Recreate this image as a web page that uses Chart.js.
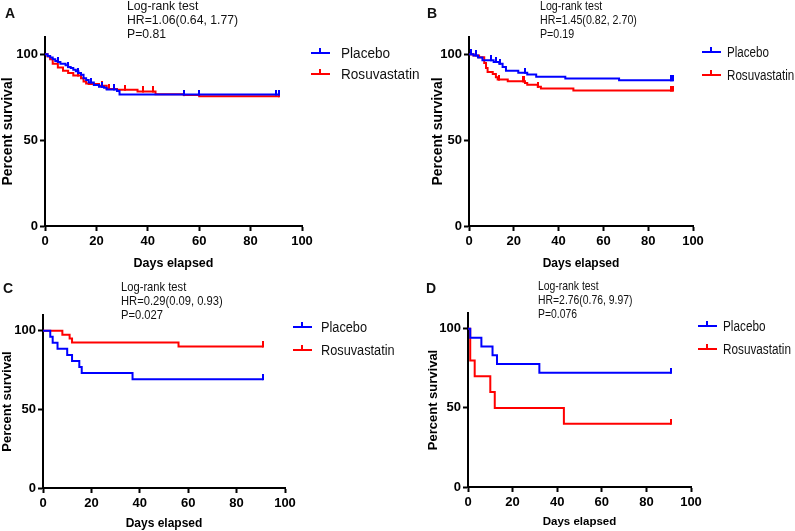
<!DOCTYPE html>
<html>
<head>
<meta charset="utf-8">
<script src="https://cdn.jsdelivr.net/npm/chart.js@4.4.0/dist/chart.umd.min.js"></script>
<style>
  body { margin: 0; background: #fff; }
  #wrap { position: relative; width: 795px; height: 531px; overflow: hidden; font-family: Arial, "Liberation Sans", sans-serif; color: #111; }
  #wrap canvas { position: absolute; }
  .letter { position: absolute; font-weight: bold; font-size: 14px; line-height: 16px; }
  .note { position: absolute; font-size: 13px; line-height: 14px; white-space: pre; transform-origin: 0 0; }
  .leg { position: absolute; height: 16px; line-height: 16px; white-space: nowrap; }
  .leg .key { position: absolute; left: 0; top: 7px; width: 19px; height: 2px; }
  .leg .key i { position: absolute; left: 8px; top: -4px; width: 2px; height: 5px; background: inherit; }
  .leg span { position: absolute; top: 0; transform-origin: 0 50%; }
</style>
</head>
<body>
<div id="wrap"></div>
<script>
// 軸と凡例
const xTicks = [0, 20, 40, 60, 80, 100];
const yTicks = [0, 50, 100];
const groupNames = ["Placebo", "Rosuvastatin"];
const panelLetters = ["A", "B", "C", "D"];
const notes = [
  ["Log-rank test", "HR=1.06(0.64, 1.77)", "P=0.81"],
  ["Log-rank test", "HR=1.45(0.82, 2.70)", "P=0.19"],
  ["Log-rank test", "HR=0.29(0.09, 0.93)", "P=0.027"],
  ["Log-rank test", "HR=2.76(0.76, 9.97)", "P=0.076"]
];

// A: イベント日・生存率・打ち切り日
const aPlaceboDays = [1, 2, 3, 4, 5, 6, 8, 9, 10, 11, 12, 13, 14, 15, 16, 17, 19, 21, 23, 24, 28, 29];
const aPlaceboSurv = [99, 98, 97, 96, 95.5, 94.5, 93.5, 92.5, 92, 91, 90, 89, 88, 86, 85, 83.5, 82, 81, 80.5, 79.5, 78.5, 76.5];
const aPlaceboCens = [5, 9, 13, 18, 22, 27, 54, 60, 90, 91];
const aRosuDays = [1, 2, 3, 5, 7, 9, 11, 14, 15, 16, 17, 21, 24, 28, 36, 43, 54, 60];
const aRosuSurv = [98.6, 97, 94.4, 92.2, 90.3, 89, 87.6, 86, 84.1, 83, 82.6, 81.6, 79.8, 79.3, 78.3, 76.7, 76.2, 75.5];
const aRosuCens = [13, 22, 25, 31, 38, 42, 54, 91];

// B
const bPlaceboDays = [2, 4, 6, 11, 13.5, 15, 16.5, 22, 26, 30, 43, 67];
const bPlaceboSurv = [99.3, 98, 96.5, 95.5, 94.5, 92.5, 90.3, 89.2, 88.2, 86.8, 85.8, 84.8];
const bPlaceboCens = [1, 3, 10, 12, 14, 25, 90, 91];
const bRosuDays = [2, 4.5, 6.8, 7.6, 8.3, 10.6, 12, 12.8, 17.3, 25, 26, 30.7, 32.1, 46.6];
const bRosuSurv = [99.2, 98.2, 94.8, 92, 89.7, 88.4, 86.6, 85.2, 84.2, 83.2, 82.2, 81, 80, 78.8];
const bRosuCens = [1, 13.5, 24, 24.5, 31, 90, 91];

// C
const cPlaceboDays = [3, 4, 6, 10, 12, 15, 16, 37];
const cPlaceboSurv = [96.2, 92.3, 88.5, 84.6, 80.8, 76.9, 73.1, 69.2];
const cPlaceboCens = [91];
const cRosuDays = [8, 11, 12, 56];
const cRosuSurv = [97.5, 95, 92.5, 90];
const cRosuCens = [91];

// D
const dPlaceboDays = [1, 6, 11, 13, 32];
const dPlaceboSurv = [94.4, 88.9, 83.3, 77.8, 72.2];
const dPlaceboCens = [91];
const dRosuDays = [1, 3, 10, 12, 43];
const dRosuSurv = [80, 70, 60, 50, 40];
const dRosuCens = [91];

const series = [
  [[aPlaceboDays, aPlaceboSurv, aPlaceboCens], [aRosuDays, aRosuSurv, aRosuCens]],
  [[bPlaceboDays, bPlaceboSurv, bPlaceboCens], [bRosuDays, bRosuSurv, bRosuCens]],
  [[cPlaceboDays, cPlaceboSurv, cPlaceboCens], [cRosuDays, cRosuSurv, cRosuCens]],
  [[dPlaceboDays, dPlaceboSurv, dPlaceboCens], [dRosuDays, dRosuSurv, dRosuCens]]
];

// 配置（パネルごとに元画像の縮尺が違う）
const colors = ["#0000ff", "#ff0000"];
const layoutInfo = [
  { left: 0, top: 0, w: 400, h: 271, pad: { left: 0, top: 37, right: 98, bottom: 0 }, yW: 45, xH: 45,
    letter: [5, 5], note: [127, -1], noteScale: 0.94, leg: [311, 53, 74, 30], legScale: 0.97,
    xTitle: 12.5, yTitle: 14 },
  { left: 400, top: 0, w: 395, h: 271, pad: { left: 30, top: 37, right: 102, bottom: 0 }, yW: 39, xH: 45,
    letter: [427, 5], note: [540, -1], noteScale: 0.82, leg: [702, 52, 75, 25], legScale: 0.83,
    xTitle: 12, yTitle: 14 },
  { left: 0, top: 270, w: 400, h: 261, pad: { left: 0, top: 45, right: 115, bottom: 0 }, yW: 43, xH: 43,
    letter: [3, 280], note: [121, 280], noteScale: 0.86, leg: [293, 327, 350, 28], legScale: 0.91,
    xTitle: 12, yTitle: 13 },
  { left: 400, top: 270, w: 395, h: 261, pad: { left: 26, top: 43, right: 104, bottom: 2 }, yW: 42, xH: 42,
    letter: [426, 280], note: [538, 279], noteScale: 0.8, leg: [698, 326, 349, 25], legScale: 0.84,
    xTitle: 11.5, yTitle: 13 }
];

const wrap = document.getElementById("wrap");
const fontFamily = "Arial, 'Liberation Sans', sans-serif";

// 打ち切りマーク（上向きの短い線）
function censorMark(color) {
  const c = document.createElement("canvas");
  c.width = 2; c.height = 10;
  const g = c.getContext("2d");
  g.fillStyle = color;
  g.fillRect(0, 0, 2, 6);
  return c;
}

// KM曲線の点列
function kmPoints(days, surv, cens) {
  const pts = [{ x: 0, y: 100, c: 0 }];
  days.forEach((d, i) => pts.push({ x: d, y: surv[i], c: 0 }));
  cens.forEach(d => {
    let s = 100;
    days.forEach((e, i) => { if (e <= d) s = surv[i]; });
    pts.push({ x: d, y: s, c: 1 });
  });
  pts.sort((p, q) => p.x - q.x || p.c - q.c);
  return pts;
}

function addDiv(cls, left, top, html) {
  const el = document.createElement("div");
  el.className = cls;
  el.style.left = left + "px";
  el.style.top = top + "px";
  el.innerHTML = html;
  wrap.appendChild(el);
  return el;
}

layoutInfo.forEach((p, i) => {
  const cv = document.createElement("canvas");
  cv.width = p.w; cv.height = p.h;
  cv.style.left = p.left + "px";
  cv.style.top = p.top + "px";
  wrap.appendChild(cv);

  const datasets = series[i].map((s, k) => ({
    label: groupNames[k],
    data: kmPoints(s[0], s[1], s[2]),
    borderColor: colors[k],
    backgroundColor: colors[k],
    borderWidth: 2,
    stepped: true,
    fill: false,
    pointStyle: censorMark(colors[k]),
    pointRadius: ctx => (ctx.raw && ctx.raw.c ? 4 : 0),
    pointHoverRadius: 0
  }));

  new Chart(cv, {
    type: "line",
    data: { datasets },
    options: {
      responsive: false,
      animation: false,
      events: [],
      layout: { padding: p.pad },
      plugins: { legend: { display: false }, tooltip: { enabled: false } },
      scales: {
        x: {
          type: "linear", min: 0, max: 100,
          afterBuildTicks: s => { s.ticks = xTicks.map(v => ({ value: v })); },
          afterFit: s => { s.height = p.xH; },
          grid: { drawOnChartArea: false, drawTicks: true, tickLength: 5, tickColor: "#000", tickWidth: 2 },
          border: { color: "#000", width: 2 },
          ticks: { color: "#000", padding: 3, maxRotation: 0, font: { family: fontFamily, weight: "bold", size: 13 } },
          title: { display: true, text: "Days elapsed", color: "#000", padding: 0, font: { family: fontFamily, weight: "bold", size: p.xTitle } }
        },
        y: {
          type: "linear", min: 0, max: 110,
          afterBuildTicks: s => { s.ticks = yTicks.map(v => ({ value: v })); },
          afterFit: s => { s.width = p.yW; },
          grid: { drawOnChartArea: false, drawTicks: true, tickLength: 5, tickColor: "#000", tickWidth: 2 },
          border: { color: "#000", width: 2 },
          ticks: { color: "#000", padding: 2, font: { family: fontFamily, weight: "bold", size: 13 } },
          title: { display: true, text: "Percent survival", color: "#000", padding: 0, font: { family: fontFamily, weight: "bold", size: p.yTitle } }
        }
      }
    }
  });

  // パネル記号・検定結果・凡例
  addDiv("letter", p.letter[0], p.letter[1], panelLetters[i]);
  const note = addDiv("note", p.note[0], p.note[1], notes[i].join("\n"));
  note.style.transform = "scaleX(" + p.noteScale + ")";
  [p.leg[1], p.leg[2]].forEach((cy, k) => {
    const el = addDiv("leg", p.leg[0], cy - 8, "");
    el.style.fontSize = "14px";
    const key = document.createElement("div");
    key.className = "key";
    key.style.background = colors[k];
    key.appendChild(document.createElement("i"));
    const txt = document.createElement("span");
    txt.style.left = p.leg[3] + "px";
    txt.style.transform = "scaleX(" + p.legScale + ")";
    txt.textContent = groupNames[k];
    el.appendChild(key);
    el.appendChild(txt);
  });
});
</script>
</body>
</html>
